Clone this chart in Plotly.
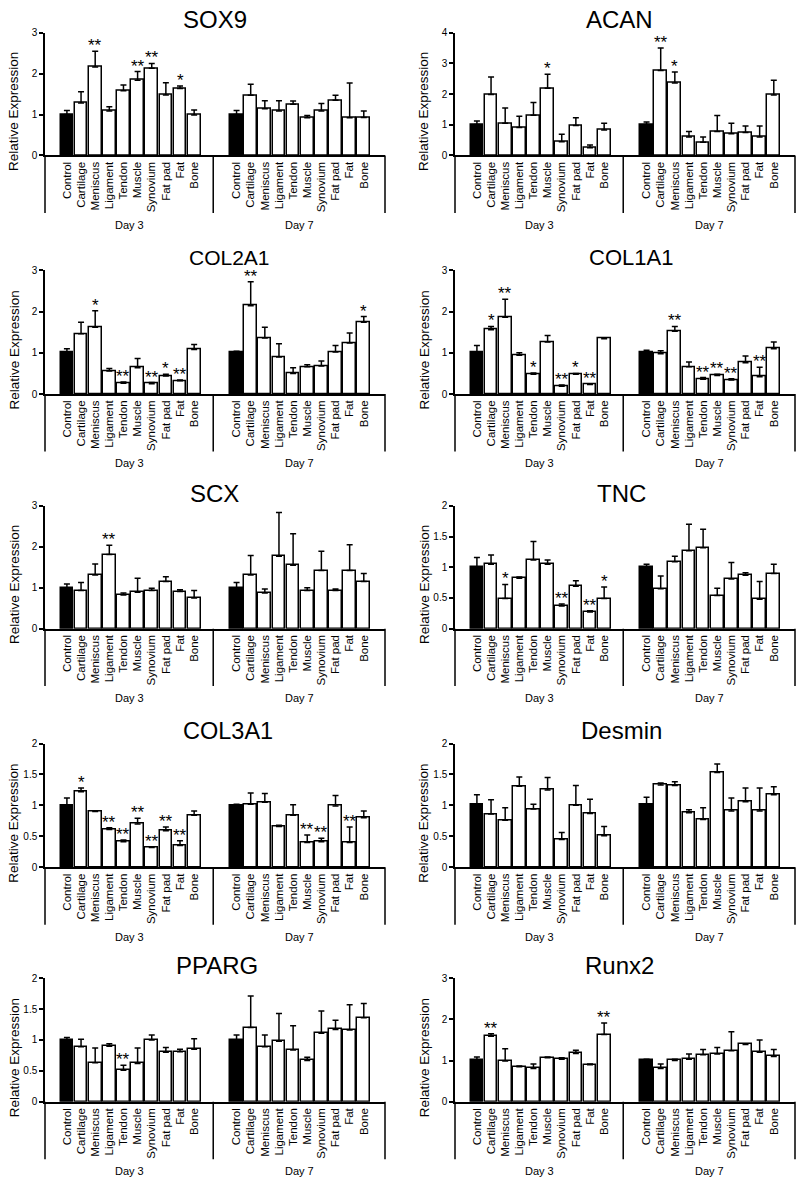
import plotly.graph_objects as go

categories = ["Control", "Cartilage", "Meniscus", "Ligament", "Tendon",
              "Muscle", "Synovium", "Fat pad", "Fat", "Bone"]
groups = ["Day 3", "Day 7"]

# values: Day 3 (10) followed by Day 7 (10)
sox9_mean = [1.0, 1.28, 2.16, 1.09, 1.58, 1.84, 2.13, 1.48, 1.64, 0.99,
             1.0, 1.47, 1.14, 1.09, 1.25, 0.92, 1.09, 1.35, 0.92, 0.93]
sox9_err = [0.1, 0.28, 0.39, 0.1, 0.14, 0.21, 0.12, 0.3, 0.06, 0.12,
            0.1, 0.27, 0.2, 0.25, 0.08, 0.06, 0.18, 0.12, 0.85, 0.16]
sox9_sig = ["", "", "**", "", "", "**", "**", "", "*", "",
            "", "", "", "", "", "", "", "", "", ""]

acan_mean = [1.01, 1.99, 1.05, 0.91, 1.31, 2.19, 0.45, 0.98, 0.25, 0.83,
             1.01, 2.77, 2.36, 0.6, 0.43, 0.78, 0.71, 0.75, 0.6, 1.97]
acan_err = [0.11, 0.57, 0.5, 0.37, 0.42, 0.46, 0.24, 0.25, 0.09, 0.22,
            0.08, 0.73, 0.36, 0.18, 0.17, 0.52, 0.34, 0.21, 0.36, 0.48]
acan_sig = ["", "", "", "", "", "*", "", "", "", "",
            "", "**", "*", "", "", "", "", "", "", ""]

col2a1_mean = [1.0, 1.46, 1.62, 0.56, 0.26, 0.64, 0.25, 0.44, 0.32, 1.08,
               1.0, 2.14, 1.36, 0.9, 0.5, 0.66, 0.68, 1.02, 1.24, 1.74]
col2a1_err = [0.1, 0.28, 0.4, 0.06, 0.03, 0.22, 0.03, 0.04, 0.02, 0.12,
              0.04, 0.58, 0.26, 0.32, 0.14, 0.05, 0.12, 0.16, 0.24, 0.14]
col2a1_sig = ["", "", "*", "", "**", "", "**", "*", "**", "",
              "", "**", "", "", "", "", "", "", "", "*"]

col1a1_mean = [1.0, 1.56, 1.86, 0.94, 0.48, 1.26, 0.19, 0.48, 0.23, 1.34,
               1.0, 0.98, 1.52, 0.66, 0.36, 0.45, 0.34, 0.76, 0.42, 1.1]
col1a1_err = [0.18, 0.08, 0.44, 0.06, 0.03, 0.16, 0.03, 0.02, 0.02, 0.02,
              0.06, 0.07, 0.12, 0.12, 0.04, 0.03, 0.03, 0.16, 0.23, 0.16]
col1a1_sig = ["", "*", "**", "", "*", "", "**", "*", "**", "",
              "", "", "**", "", "**", "**", "**", "", "**", ""]

scx_mean = [1.0, 0.93, 1.31, 1.81, 0.82, 0.89, 0.93, 1.15, 0.91, 0.75,
            1.0, 1.31, 0.87, 1.77, 1.55, 0.93, 1.42, 0.93, 1.42, 1.15]
scx_err = [0.09, 0.2, 0.27, 0.23, 0.05, 0.34, 0.06, 0.12, 0.04, 0.18,
           0.13, 0.48, 0.1, 1.07, 0.77, 0.07, 0.47, 0.04, 0.63, 0.2]
scx_sig = ["", "", "", "**", "", "", "", "", "", "",
           "", "", "", "", "", "", "", "", "", ""]

tnc_mean = [1.0, 1.05, 0.49, 0.82, 1.12, 1.05, 0.37, 0.69, 0.27, 0.49,
            1.0, 0.65, 1.09, 1.27, 1.32, 0.54, 0.81, 0.87, 0.48, 0.9]
tnc_err = [0.16, 0.15, 0.23, 0.02, 0.3, 0.07, 0.03, 0.09, 0.02, 0.19,
           0.05, 0.21, 0.09, 0.43, 0.3, 0.12, 0.27, 0.04, 0.29, 0.15]
tnc_sig = ["", "", "*", "", "", "", "**", "", "**", "*",
           "", "", "", "", "", "", "", "", "", ""]

col3a1_mean = [1.0, 1.22, 0.9, 0.61, 0.41, 0.7, 0.32, 0.59, 0.35, 0.84,
               1.0, 1.02, 1.05, 0.66, 0.84, 0.4, 0.41, 0.99, 0.4, 0.8]
col3a1_err = [0.12, 0.06, 0.01, 0.03, 0.03, 0.09, 0.01, 0.06, 0.08, 0.07,
              0.02, 0.18, 0.14, 0.02, 0.17, 0.12, 0.06, 0.17, 0.25, 0.11]
col3a1_sig = ["", "*", "", "**", "**", "**", "**", "**", "**", "",
              "", "", "", "", "", "**", "**", "", "**", ""]

desmin_mean = [1.01, 0.86, 0.76, 1.31, 0.94, 1.25, 0.45, 1.0, 0.87, 0.51,
               1.01, 1.33, 1.32, 0.88, 0.77, 1.53, 0.91, 1.06, 0.91, 1.17]
desmin_err = [0.16, 0.23, 0.2, 0.15, 0.08, 0.2, 0.11, 0.32, 0.23, 0.15,
              0.12, 0.03, 0.06, 0.05, 0.19, 0.14, 0.21, 0.22, 0.37, 0.13]
desmin_sig = [""] * 20

pparg_mean = [1.0, 0.89, 0.63, 0.9, 0.51, 0.62, 1.0, 0.8, 0.81, 0.85,
              1.0, 1.2, 0.89, 0.98, 0.84, 0.67, 1.11, 1.17, 1.16, 1.36]
pparg_err = [0.04, 0.12, 0.24, 0.04, 0.08, 0.25, 0.08, 0.08, 0.04, 0.17,
             0.08, 0.51, 0.19, 0.45, 0.39, 0.05, 0.36, 0.15, 0.41, 0.23]
pparg_sig = ["", "", "", "", "**", "", "", "", "", "",
             "", "", "", "", "", "", "", "", "", ""]

runx2_mean = [1.01, 1.59, 0.99, 0.85, 0.81, 1.07, 1.03, 1.17, 0.9, 1.63,
              1.01, 0.81, 1.0, 1.03, 1.14, 1.16, 1.24, 1.39, 1.2, 1.1]
runx2_err = [0.08, 0.06, 0.3, 0.02, 0.11, 0.02, 0.04, 0.08, 0.02, 0.28,
             0.02, 0.11, 0.03, 0.13, 0.13, 0.16, 0.46, 0.0, 0.3, 0.17]
runx2_sig = ["", "**", "", "", "", "", "", "", "", "**",
             "", "", "", "", "", "", "", "", "", ""]

genes = ["SOX9", "ACAN", "COL2A1", "COL1A1", "SCX", "TNC",
         "COL3A1", "Desmin", "PPARG", "Runx2"]
y_max = [3, 4, 3, 3, 3, 2, 2, 2, 2, 3]
y_dtick = [1, 1, 1, 1, 1, 0.5, 0.5, 0.5, 0.5, 1]
means = [sox9_mean, acan_mean, col2a1_mean, col1a1_mean, scx_mean,
         tnc_mean, col3a1_mean, desmin_mean, pparg_mean, runx2_mean]
errs = [sox9_err, acan_err, col2a1_err, col1a1_err, scx_err,
        tnc_err, col3a1_err, desmin_err, pparg_err, runx2_err]
sigs = [sox9_sig, acan_sig, col2a1_sig, col1a1_sig, scx_sig,
        tnc_sig, col3a1_sig, desmin_sig, pparg_sig, runx2_sig]

# layout (pixels) -- styling, not data
W, H = 800, 1192
FONT = "Arial, Liberation Sans, sans-serif"
col_px = [(45, 385), (455, 795)]
row_px = [(151, 27), (392, 267), (629, 505), (870, 745), (1107, 982)]
title_cx = [215, 619, 229, 631, 214, 621, 228, 621, 217, 619]
title_size = [24, 24, 21, 22, 24, 24, 23.5, 24, 24, 24]

positions = list(range(10)) + [12 + i for i in range(10)]
x_lo, x_hi, x_div = -1.55, 22.5, 10.35

fig = go.Figure()
annotations = []
shapes = []

for k, gene in enumerate(genes):
    r, c = divmod(k, 2)
    n = k + 1
    xa = "x" if n == 1 else f"x{n}"
    ya = "y" if n == 1 else f"y{n}"
    xl = "xaxis" if n == 1 else f"xaxis{n}"
    yl = "yaxis" if n == 1 else f"yaxis{n}"
    x0, x1 = col_px[c]
    zero, top = row_px[r]
    ph = zero - top
    pw = x1 - x0

    colors = ["black" if i % 10 == 0 else "white" for i in range(20)]
    fig.add_trace(go.Bar(
        x=positions, y=means[k], width=0.9,
        marker=dict(color=colors, line=dict(color="black", width=1.5)),
        error_y=dict(type="data", array=errs[k], arrayminus=[0] * 20,
                     symmetric=False, color="black", thickness=1.5, width=3),
        xaxis=xa, yaxis=ya, showlegend=False, hoverinfo="skip"))

    fig.layout[xl] = dict(
        domain=[x0 / W, x1 / W], anchor=ya, range=[x_lo, x_hi],
        tickmode="array", tickvals=positions, ticktext=categories * 2,
        tickangle=-90, tickfont=dict(family=FONT, size=11.5, color="black"),
        ticks="", showline=True, linecolor="black", linewidth=1.5,
        showgrid=False, zeroline=False, fixedrange=True)
    fig.layout[yl] = dict(
        domain=[1 - zero / H, 1 - top / H], anchor=xa,
        range=[0, y_max[k]], dtick=y_dtick[k], tick0=0,
        ticks="outside", ticklen=4, tickwidth=1.5, tickcolor="black",
        tickfont=dict(family=FONT, size=10, color="black"),
        showline=True, linecolor="black", linewidth=1.5,
        showgrid=False, zeroline=False, fixedrange=True)

    # title
    annotations.append(dict(text=gene, xref=f"{xa} domain", yref=f"{ya} domain",
                            x=(title_cx[k] - x0) / pw, y=1 + 13 / ph,
                            xanchor="center", yanchor="middle", showarrow=False,
                            font=dict(family=FONT, size=title_size[k], color="black")))
    # y-axis title
    annotations.append(dict(text="Relative Expression", xref=f"{xa} domain",
                            yref=f"{ya} domain", x=0, xshift=-31, y=44 / ph,
                            xanchor="center", yanchor="middle", textangle=-90,
                            showarrow=False,
                            font=dict(family=FONT, size=13.5, color="black")))
    # group labels
    for gname, gx in zip(groups, [(x_lo + x_div) / 2, (x_div + x_hi) / 2]):
        annotations.append(dict(text=gname, xref=xa, yref=f"{ya} domain",
                                x=gx, y=-70 / ph, xanchor="center", yanchor="middle",
                                showarrow=False,
                                font=dict(family=FONT, size=11, color="black")))
    # group separator lines
    for xv, xr in [(0, f"{xa} domain"), (x_div, xa), (1, f"{xa} domain")]:
        shapes.append(dict(type="line", xref=xr, yref=f"{ya} domain",
                           x0=xv, x1=xv, y0=0, y1=-58 / ph,
                           line=dict(color="black", width=1.5)))
    # significance marks
    for i, s in enumerate(sigs[k]):
        if s:
            annotations.append(dict(text=s, xref=xa, yref=ya, x=positions[i],
                                    y=means[k][i] + errs[k][i], xanchor="center",
                                    yanchor="bottom", yshift=-6, showarrow=False,
                                    font=dict(family=FONT, size=17, color="black")))

fig.update_layout(
    width=W, height=H, margin=dict(l=0, r=0, t=0, b=0),
    paper_bgcolor="white", plot_bgcolor="white",
    bargap=0, annotations=annotations, shapes=shapes,
    font=dict(family=FONT, color="black"))

fig.write_html("out.html", config={"displayModeBar": False},
               post_script="document.body.style.margin='0';document.body.style.padding='0';")
